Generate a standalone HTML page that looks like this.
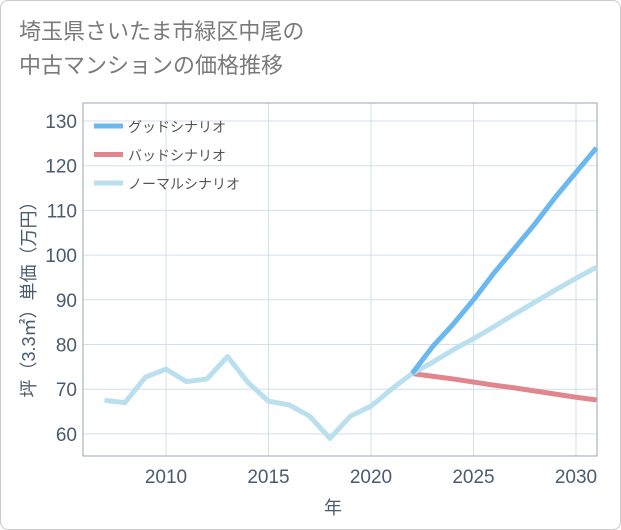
<!DOCTYPE html>
<html><head><meta charset="utf-8"><style>
body{margin:0;background:#fff;}
#wrap{position:relative;width:619px;height:528px;border:1px solid #ccc;border-radius:8px;overflow:hidden;font-family:"Liberation Sans","Noto Sans CJK JP",sans-serif;}
#title{position:absolute;left:18px;top:14px;font-size:22px;line-height:34px;color:#7a7a7a;}
</style></head><body>
<div id="wrap">
<div id="title">埼玉県さいたま市緑区中尾の<br>中古マンションの価格推移</div>
<svg id="svg" width="621" height="530" style="position:absolute;left:-1px;top:-1px"></svg>
</div>
<script>
const years=[2007,2008,2009,2010,2011,2012,2013,2014,2015,2016,2017,2018,2019,2020,2021,2022];
const normalHist=[67.5,67,72.7,74.5,71.7,72.3,77.3,71.5,67.3,66.5,64,59,64,66.2,70,73.5];
const futYears=[2022,2023,2024,2025,2026,2027,2028,2029,2030,2031];
const good=[73.5,79.5,84.5,90,96,101.5,107,113,118.5,124];
const bad=[73.5,72.9,72.3,71.6,70.9,70.3,69.6,68.9,68.2,67.6];
const normal=[73.5,76,78.8,81.3,84,86.8,89.5,92.2,94.8,97.3];
const yTicks=[60,70,80,90,100,110,120,130];
const xTicks=[2010,2015,2020,2025,2030];
const legendLabels=["グッドシナリオ","バッドシナリオ","ノーマルシナリオ"];
const L=83,R=597,T=103,B=456;
const xs=y=>166+(y-2010)*20.5;
const ys=v=>121+(130-v)*4.47;
const svg=document.getElementById('svg');const NS="http://www.w3.org/2000/svg";
function mk(t,a,p){const e=document.createElementNS(NS,t);for(const k in a)e.setAttribute(k,a[k]);(p||svg).appendChild(e);return e;}
for(const v of yTicks){const g=mk('line',{x1:L,x2:R,y1:ys(v),y2:ys(v),stroke:'#d3dfea','stroke-width':1});


const t=mk('text',{x:L-6,y:ys(v)+7,'text-anchor':'end','font-size':19,fill:'#4a5b70'});t.textContent=v;

}
for(const y of xTicks){const g=mk('line',{x1:xs(y),x2:xs(y),y1:T,y2:B,stroke:'#d3dfea','stroke-width':1});


const t=mk('text',{x:xs(y),y:B+27,'text-anchor':'middle','font-size':19,fill:'#4a5b70'});t.textContent=y;

}
const fr=mk('rect',{x:L,y:T,width:R-L,height:B-T,fill:'none',stroke:'#9aa5b1','stroke-width':1});


function line(xv,yv,c,n){const p=mk('polyline',{points:xv.map((x,i)=>xs(x)+','+ys(yv[i])).join(' '),fill:'none',stroke:c,'stroke-width':5,'stroke-linejoin':'round'});

}
line(futYears,bad,'#e0868c','bad-scenario-line');
line(futYears,normal,'#badfee','normal-scenario-line');
line(futYears,good,'#6bb8f0','good-scenario-line');
line(years,normalHist,'#badfee','historical-line');
const cols=['#6bb8f0','#e0868c','#badfee'];
legendLabels.forEach((s,i)=>{const y=126+i*28.5;
const g=mk('g',{});


mk('line',{x1:94,x2:123,y1:y,y2:y,stroke:cols[i],'stroke-width':5},g);
const t=mk('text',{x:128,y:y+6,'font-size':14,fill:'#555'},g);t.textContent=s;});
const xt=mk('text',{x:333,y:514,'text-anchor':'middle','font-size':18,fill:'#4a5b70'});xt.textContent='年';


const yt=mk('text',{x:0,y:0,'text-anchor':'middle','font-size':18,fill:'#4a5b70',transform:'translate(35,295) rotate(-90)'});yt.textContent='坪（3.3㎡）単価（万円）';


</script>
</body></html>
